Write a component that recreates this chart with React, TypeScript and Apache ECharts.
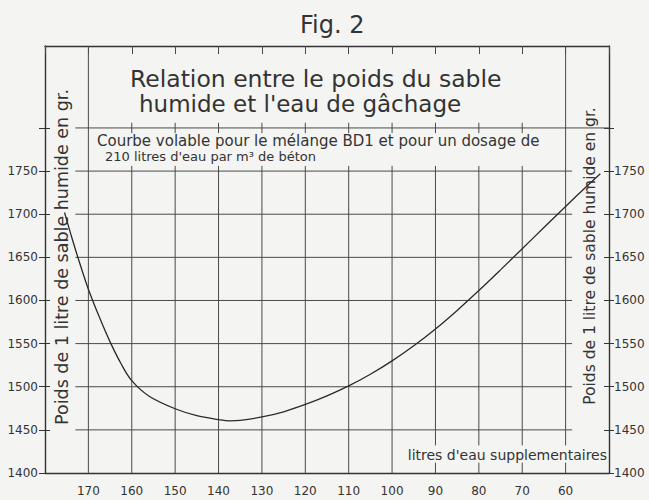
import React, { useEffect, useRef } from "react";
import * as echarts from "echarts";

// ---- data ----
const curveX = [175.5, 174, 172.3, 170, 167.5, 165, 162.5, 160, 156, 150, 145, 140, 137.5, 135, 130, 125, 120, 115, 110, 105, 100, 95, 90, 85, 80, 75, 70, 65, 60, 55, 52];
const curveY = [1702, 1676, 1648, 1613, 1581, 1552, 1527, 1507, 1489, 1474.5, 1466.5, 1462, 1460.5, 1461, 1465, 1471, 1479.5, 1489.5, 1501, 1514.5, 1530, 1547.5, 1567, 1588.5, 1611.5, 1635.5, 1660, 1684.5, 1709, 1733, 1747];

const xLabelValues = [170, 160, 150, 140, 130, 120, 110, 100, 90, 80, 70, 60];
const yLabelValues = [1400, 1450, 1500, 1550, 1600, 1650, 1700, 1750];
const yTickValues = [1400, 1450, 1500, 1550, 1600, 1650, 1700, 1750, 1800];

// grid lines (in data units)
const hGridValues = [1450, 1500, 1550, 1600, 1650, 1700, 1750];
const hGridFrom = 173;
const hGridTo = 58.5;
const separatorValue = 1800;
const fullVGrid = [170];
const midVGrid = [160, 150, 140, 130, 120, 110, 100];
const brokenVGrid = [90, 80, 70];
const lastVGrid = [60];

const X_MIN = 50;
const X_MAX = 180;
const Y_MIN = 1400;
const Y_MAX = 1895;

const FONT = "DejaVu Sans";
const INK = "#333";
const GRIDC = "#4a4a4a";

function seg(x1: number, y1: number, x2: number, y2: number) {
  return [[x1, y1], [x2, y2]];
}

export default function App() {
  const ref = useRef<HTMLDivElement>(null);

  useEffect(() => {
    if (!ref.current) return;
    const chart = echarts.init(ref.current, undefined, { renderer: "svg" });

    const segs: number[][][] = [];
    hGridValues.forEach((v) => segs.push(seg(hGridFrom, v, hGridTo, v)));
    segs.push(seg(hGridFrom, separatorValue, X_MIN, separatorValue));
    fullVGrid.forEach((x) => segs.push(seg(x, Y_MIN, x, Y_MAX)));
    midVGrid.forEach((x) => {
      segs.push(seg(x, Y_MIN, x, 1756));
      segs.push(seg(x, 1794, x, 1806));
    });
    brokenVGrid.forEach((x) => {
      segs.push(seg(x, 1432, x, 1756));
      segs.push(seg(x, Y_MIN, x, 1412));
      segs.push(seg(x, 1794, x, 1806));
    });
    lastVGrid.forEach((x) => {
      segs.push(seg(x, 1432, x, Y_MAX));
      segs.push(seg(x, Y_MIN, x, 1412));
    });

    const gridSeries = segs.map((s) => ({
      type: "line",
      xAxisIndex: 0,
      yAxisIndex: 0,
      data: s,
      symbol: "none",
      silent: true,
      clip: false,
      lineStyle: { color: GRIDC, width: 1 },
      z: 1,
      tooltip: { show: false },
    }));

    const yBase = {
      type: "value",
      min: Y_MIN,
      max: Y_MAX,
      interval: 50,
      splitLine: { show: false },
    };
    const fmt = (v: number) => String(v);

    const option: any = {
      animation: false,
      backgroundColor: "#f4f4f2",
      title: {
        text: "Fig. 2",
        left: 295,
        top: 8,
        textStyle: { fontFamily: FONT, fontSize: 24, fontWeight: "normal", color: INK },
      },
      grid: { left: 45, right: 40, top: 46, bottom: 27 },
      xAxis: [
        {
          type: "value",
          min: X_MIN,
          max: X_MAX,
          interval: 10,
          inverse: true,
          position: "bottom",
          axisLine: { onZero: false, lineStyle: { color: INK, width: 1.4 } },
          axisTick: { show: false },
          splitLine: { show: false },
          axisLabel: {
            customValues: xLabelValues,
            formatter: fmt,
            fontFamily: FONT,
            fontSize: 12,
            color: INK,
            margin: 12,
          },
        },
        {
          type: "value",
          min: X_MIN,
          max: X_MAX,
          interval: 10,
          inverse: true,
          position: "top",
          axisLine: { onZero: false, lineStyle: { color: INK, width: 1.4 } },
          axisTick: { inside: true, length: 8, lineStyle: { color: GRIDC } },
          axisLabel: { show: false },
          splitLine: { show: false },
        },
      ],
      yAxis: [
        {
          ...yBase,
          position: "left",
          axisLine: { show: true, onZero: false, lineStyle: { color: INK, width: 1.4 } },
          axisTick: { show: true, length: 6, customValues: yTickValues, lineStyle: { color: INK } },
          axisLabel: {
            customValues: yLabelValues,
            formatter: fmt,
            fontFamily: FONT,
            fontSize: 12,
            color: INK,
            margin: 7,
          },
        },
        {
          ...yBase,
          position: "left",
          axisLine: { show: false, onZero: false },
          axisTick: { show: true, inside: true, length: 5, customValues: yTickValues, lineStyle: { color: INK } },
          axisLabel: { show: false },
        },
        {
          ...yBase,
          position: "right",
          axisLine: { show: true, onZero: false, lineStyle: { color: INK, width: 1.4 } },
          axisTick: { show: true, length: 5, customValues: yTickValues, lineStyle: { color: INK } },
          axisLabel: {
            customValues: yLabelValues,
            formatter: fmt,
            fontFamily: FONT,
            fontSize: 12,
            color: INK,
            margin: 5,
          },
        },
        {
          ...yBase,
          position: "right",
          axisLine: { show: false, onZero: false },
          axisTick: { show: true, inside: true, length: 5, customValues: yTickValues, lineStyle: { color: INK } },
          axisLabel: { show: false },
        },
      ],
      graphic: [
        {
          type: "text",
          x: 130,
          y: 79,
          style: { text: "Relation entre le poids du sable", font: `23.5px "${FONT}"`, fill: INK, verticalAlign: "middle" },
        },
        {
          type: "text",
          x: 139,
          y: 104,
          style: { text: "humide et l'eau de gâchage", font: `23px "${FONT}"`, fill: INK, verticalAlign: "middle" },
        },
        {
          type: "text",
          x: 97,
          y: 141,
          style: { text: "Courbe volable pour le mélange BD1 et pour un dosage de", font: `15px "${FONT}"`, fill: INK, verticalAlign: "middle" },
        },
        {
          type: "text",
          x: 105,
          y: 156,
          style: { text: "210 litres d'eau par m³ de béton", font: `13px "${FONT}"`, fill: INK, verticalAlign: "middle" },
        },
        {
          type: "text",
          x: 607,
          y: 455,
          style: { text: "litres d'eau supplementaires", font: `14px "${FONT}"`, fill: INK, align: "right", verticalAlign: "middle" },
        },
        {
          type: "text",
          x: 62,
          y: 257,
          rotation: Math.PI / 2,
          style: { text: "Poids de 1 litre de sable humide en gr.", font: `17.5px "${FONT}"`, fill: INK, align: "center", verticalAlign: "middle" },
        },
        {
          type: "text",
          x: 590,
          y: 256,
          rotation: Math.PI / 2,
          style: { text: "Poids de 1 litre de sable humide en gr.", font: `15.5px "${FONT}"`, fill: INK, align: "center", verticalAlign: "middle" },
        },
      ],
      series: [
        ...gridSeries,
        {
          type: "line",
          name: "Poids",
          xAxisIndex: 0,
          yAxisIndex: 0,
          data: curveX.map((x, i) => [x, curveY[i]]),
          smooth: 0.35,
          symbol: "none",
          lineStyle: { color: "#2a2a2a", width: 1.3 },
          z: 3,
        },
      ],
    };

    chart.setOption(option);
    return () => chart.dispose();
  }, []);

  return (
    <div
      ref={ref}
      style={{ position: "fixed", left: 0, top: 0, width: 649, height: 500 }}
    />
  );
}
